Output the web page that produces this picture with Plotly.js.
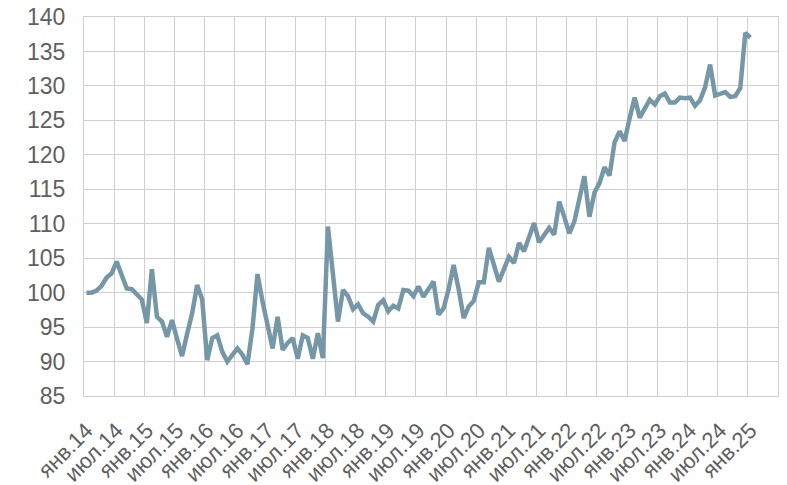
<!DOCTYPE html>
<html>
<head>
<meta charset="utf-8">
<script src="https://cdn.plot.ly/plotly-3.0.1.min.js"></script>
<style>html,body{margin:0;padding:0;background:#fff;}#chart{width:787px;height:485px;}</style>
</head>
<body>
<div id="chart"></div>
<script>
// Monthly index values, Jan 2014 – Jan 2025
const v2014 = [100, 100, 100.3, 101, 102.2, 102.8, 104.5, 102.5, 100.6, 100.5, 99.8, 99];
const v2015 = [95.6, 103.4, 96.5, 95.8, 93.6, 96, 93.3, 90.8, 94, 97, 101.1, 99];
const v2016 = [90.2, 93.4, 93.8, 91.4, 90, 91, 91.9, 91, 89.6, 94.8, 102.7, 98.7];
const v2017 = [95.5, 91.9, 96.5, 91.7, 92.7, 93.4, 90.4, 93.8, 93.4, 90.4, 94.1, 90.5];
const v2018 = [109.6, 103, 95.8, 100.4, 99.5, 97.6, 98.3, 97, 96.5, 95.8, 98.2, 98.9];
const v2019 = [97.3, 98.1, 97.7, 100.4, 100.3, 99.5, 100.9, 99.4, 100.5, 101.6, 96.8, 97.7];
const v2020 = [100.5, 104, 100.5, 96.3, 98, 98.8, 101.5, 101.5, 106.5, 104, 101.6, 103.4];
const v2021 = [105.2, 104.3, 107.2, 106, 108, 110.1, 107.3, 108.3, 109.4, 108.4, 113.2, 111];
const v2022 = [108.6, 110.3, 113.5, 116.9, 111, 114.5, 115.9, 118.2, 117, 121.8, 123.4, 122];
const v2023 = [125.3, 128.3, 125.4, 126.7, 128, 127.3, 128.5, 128.9, 127.6, 127.6, 128.3, 128.2];
const v2024 = [128.3, 127.1, 127.9, 129.8, 133.1, 128.6, 128.8, 129.1, 128.4, 128.5, 129.7, 137.7];
const v2025 = [137];

const tickLabels = ["янв.14","июл.14","янв.15","июл.15","янв.16","июл.16","янв.17","июл.17",
  "янв.18","июл.18","янв.19","июл.19","янв.20","июл.20","янв.21","июл.21","янв.22","июл.22",
  "янв.23","июл.23","янв.24","июл.24","янв.25"];

const values = [].concat(v2014, v2015, v2016, v2017, v2018, v2019, v2020, v2021, v2022, v2023, v2024, v2025);
const monthIndex = values.map((_, i) => i);
const tickPos = tickLabels.map((_, k) => k * 6);

const gridCol = '#cfcfcf';
const txtCol = '#5f5f5f';
const fontFam = 'Liberation Sans, Arial, sans-serif';

Plotly.newPlot('chart', [{
  x: monthIndex,
  y: values,
  type: 'scatter',
  mode: 'lines',
  line: {color: '#7597a8', width: 4.5, shape: 'linear'},
  hoverinfo: 'skip'
}], {
  width: 787, height: 485,
  margin: {l: 84, r: 9, t: 17, b: 89, pad: 0},
  paper_bgcolor: '#fff', plot_bgcolor: '#fff',
  showlegend: false,
  font: {family: fontFam, color: txtCol, size: 23},
  xaxis: {
    type: 'linear',
    range: [-0.5, 137.5],
    tickmode: 'array',
    tickvals: tickPos,
    ticktext: tickLabels,
    tickangle: -45,
    ticks: '',
    showgrid: false,
    zeroline: false,
    showline: true, mirror: true, linecolor: gridCol, linewidth: 1,
    minor: {tick0: -0.5, dtick: 6, showgrid: true, gridcolor: gridCol, gridwidth: 1, ticks: ''},
    ticklabelstandoff: 12,
    tickfont: {family: fontFam, color: txtCol, size: 22},
    fixedrange: true
  },
  yaxis: {
    range: [85, 140],
    tickmode: 'linear', tick0: 85, dtick: 5,
    ticks: '',
    showgrid: true, gridcolor: gridCol, gridwidth: 1,
    zeroline: false,
    showline: true, mirror: true, linecolor: gridCol, linewidth: 1,
    ticklabelstandoff: 13,
    tickfont: {family: fontFam, color: txtCol, size: 23},
    fixedrange: true
  }
}, {displayModeBar: false, staticPlot: true});
</script>
</body>
</html>
